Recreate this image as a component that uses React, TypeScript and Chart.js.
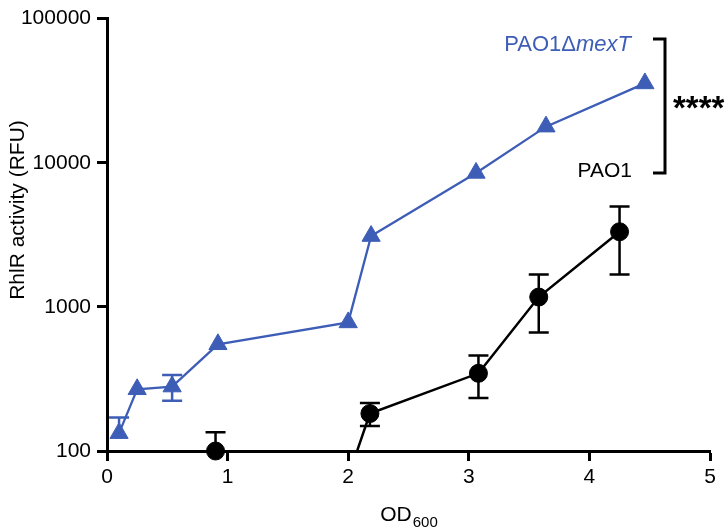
import React, { useEffect, useRef } from 'react';
import { Chart, registerables } from 'chart.js';

Chart.register(...registerables);

// Axis ticks
const odTicks = [0, 1, 2, 3, 4, 5];
const rfuTicks = [100, 1000, 10000, 100000];

// PAO1ΔmexT: OD600, mean RhlR activity, SD (0 = bar hidden behind the symbol)
const mexTOd = [0.1, 0.25, 0.54, 0.92, 2.0, 2.19, 3.06, 3.64, 4.46];
const mexTRfu = [133, 268, 280, 550, 780, 3100, 8500, 17800, 35500];
const mexTSd = [38, 0, 57, 0, 0, 0, 0, 0, 0];

// PAO1: OD600, mean RhlR activity, SD
const pao1Od = [0.9, 2.0, 2.18, 3.08, 3.58, 4.25];
const pao1Rfu = [100, 66, 182, 346, 1170, 3320];
const pao1Sd = [35, 20, 33, 113, 506, 1646];

const BLUE = '#3d5db6';
const BLACK = '#000000';
const FONT = '"Liberation Sans", Arial, Helvetica, sans-serif';
const Y_MIN = 100;
const Y_MAX = 100000;

const toPoints = (xs: number[], ys: number[]) => xs.map((x, i) => ({ x, y: ys[i] }));

const series = [
  { od: mexTOd, rfu: mexTRfu, sd: mexTSd, color: BLUE, style: 'triangle', radius: 10.5, lineWidth: 2.3 },
  { od: pao1Od, rfu: pao1Rfu, sd: pao1Sd, color: BLACK, style: 'circle', radius: 9, lineWidth: 2.5 },
];

const errorBars = {
  id: 'errorBars',
  afterDatasetsDraw(chart: any) {
    const { ctx, chartArea, scales } = chart;
    const xs = scales.x;
    const ys = scales.y;
    ctx.save();
    ctx.beginPath();
    ctx.rect(chartArea.left, 0, chart.width - chartArea.left, chartArea.bottom);
    ctx.clip();
    ctx.lineWidth = 2.5;
    series.forEach((s) => {
      ctx.strokeStyle = s.color;
      s.od.forEach((od, i) => {
        const v = s.rfu[i];
        const sd = s.sd[i];
        if (!sd || v < Y_MIN) return;
        const px = xs.getPixelForValue(od);
        const mid = ys.getPixelForValue(v);
        const top = ys.getPixelForValue(v + sd);
        ctx.beginPath();
        ctx.moveTo(px, mid);
        ctx.lineTo(px, top);
        ctx.moveTo(px - 10, top);
        ctx.lineTo(px + 10, top);
        // lower whisker only when it stays on the axis range
        if (v - sd >= Y_MIN) {
          const bot = ys.getPixelForValue(v - sd);
          ctx.moveTo(px, mid);
          ctx.lineTo(px, bot);
          ctx.moveTo(px - 10, bot);
          ctx.lineTo(px + 10, bot);
        }
        ctx.stroke();
      });
    });
    ctx.restore();
  },
};

const labels = {
  id: 'labels',
  afterDraw(chart: any) {
    const { ctx, chartArea } = chart;
    ctx.save();

    // y-axis title
    ctx.fillStyle = BLACK;
    ctx.font = `21px ${FONT}`;
    ctx.textAlign = 'center';
    ctx.textBaseline = 'middle';
    ctx.translate(18, 210);
    ctx.rotate(-Math.PI / 2);
    ctx.fillText('RhlR activity (RFU)', 0, 0);
    ctx.setTransform(1, 0, 0, 1, 0, 0);

    // x-axis title with subscript
    ctx.textAlign = 'left';
    ctx.textBaseline = 'alphabetic';
    ctx.font = `21px ${FONT}`;
    const wMain = ctx.measureText('OD').width;
    ctx.font = `15px ${FONT}`;
    const wSub = ctx.measureText('600').width;
    const cx = (chartArea.left + chartArea.right) / 2;
    const x0 = cx - (wMain + wSub) / 2;
    ctx.font = `21px ${FONT}`;
    ctx.fillText('OD', x0, 521);
    ctx.font = `15px ${FONT}`;
    ctx.fillText('600', x0 + wMain + 1, 527);

    // series names
    ctx.fillStyle = BLUE;
    ctx.font = `italic 22px ${FONT}`;
    const wIt = ctx.measureText('mexT').width;
    ctx.textAlign = 'right';
    ctx.fillText('mexT', 631, 51);
    ctx.font = `22px ${FONT}`;
    ctx.fillText('PAO1Δ', 631 - wIt, 51);

    ctx.fillStyle = BLACK;
    ctx.font = `21px ${FONT}`;
    ctx.fillText('PAO1', 632, 177);

    // significance bracket
    ctx.strokeStyle = BLACK;
    ctx.lineWidth = 3;
    ctx.beginPath();
    ctx.moveTo(653, 39);
    ctx.lineTo(665, 39);
    ctx.lineTo(665, 173);
    ctx.lineTo(653, 173);
    ctx.stroke();

    ctx.textAlign = 'left';
    ctx.textBaseline = 'middle';
    ctx.font = `bold 33px ${FONT}`;
    ctx.fillText('****', 673, 110);

    ctx.restore();
  },
};

export default function App() {
  const canvasRef = useRef<HTMLCanvasElement | null>(null);

  useEffect(() => {
    const canvas = canvasRef.current;
    if (!canvas) return;

    const datasets: any[] = [];
    series.forEach((s) => {
      const pts = toPoints(s.od, s.rfu);
      // connecting line, clipped to the plot area
      datasets.push({
        data: pts,
        borderColor: s.color,
        borderWidth: s.lineWidth,
        pointRadius: 0,
        showLine: true,
        fill: false,
        tension: 0,
      });
      // markers, drawn in full even on the axis line
      datasets.push({
        data: pts,
        showLine: false,
        clip: false,
        pointStyle: s.style,
        pointRadius: (c: any) => (c.raw && c.raw.y >= Y_MIN ? s.radius : 0),
        pointBackgroundColor: s.color,
        pointBorderColor: s.color,
        pointBorderWidth: 1,
      });
    });

    const chart = new Chart(canvas, {
      type: 'scatter',
      data: { datasets },
      options: {
        animation: false,
        responsive: false,
        layout: { padding: { left: 0, top: 7, right: 18, bottom: 0 } },
        plugins: { legend: { display: false }, tooltip: { enabled: false } },
        scales: {
          x: {
            type: 'linear',
            min: 0,
            max: 5,
            afterBuildTicks: (scale: any) => {
              scale.ticks = odTicks.map((v) => ({ value: v }));
            },
            afterFit: (scale: any) => {
              scale.height = 78;
            },
            border: { display: true, color: BLACK, width: 3 },
            grid: { drawOnChartArea: false, drawTicks: true, tickLength: 10, tickWidth: 3, tickColor: BLACK },
            ticks: {
              color: BLACK,
              font: { family: FONT, size: 21 },
              padding: 4,
              maxRotation: 0,
              callback: (v: any) => String(v),
            },
          },
          y: {
            type: 'logarithmic',
            min: Y_MIN,
            max: Y_MAX,
            afterBuildTicks: (scale: any) => {
              scale.ticks = rfuTicks.map((v) => ({ value: v }));
            },
            afterFit: (scale: any) => {
              scale.width = 107;
            },
            border: { display: true, color: BLACK, width: 3 },
            grid: { drawOnChartArea: false, drawTicks: true, tickLength: 10, tickWidth: 3, tickColor: BLACK },
            ticks: {
              color: BLACK,
              font: { family: FONT, size: 21 },
              padding: 6,
              callback: (v: any) => String(v),
            },
          },
        },
      },
      plugins: [errorBars, labels],
    });

    return () => chart.destroy();
  }, []);

  return (
    <div style={{ position: 'absolute', left: 0, top: 0, width: 728, height: 529, background: '#fff' }}>
      <canvas ref={canvasRef} width={728} height={529} />
    </div>
  );
}
